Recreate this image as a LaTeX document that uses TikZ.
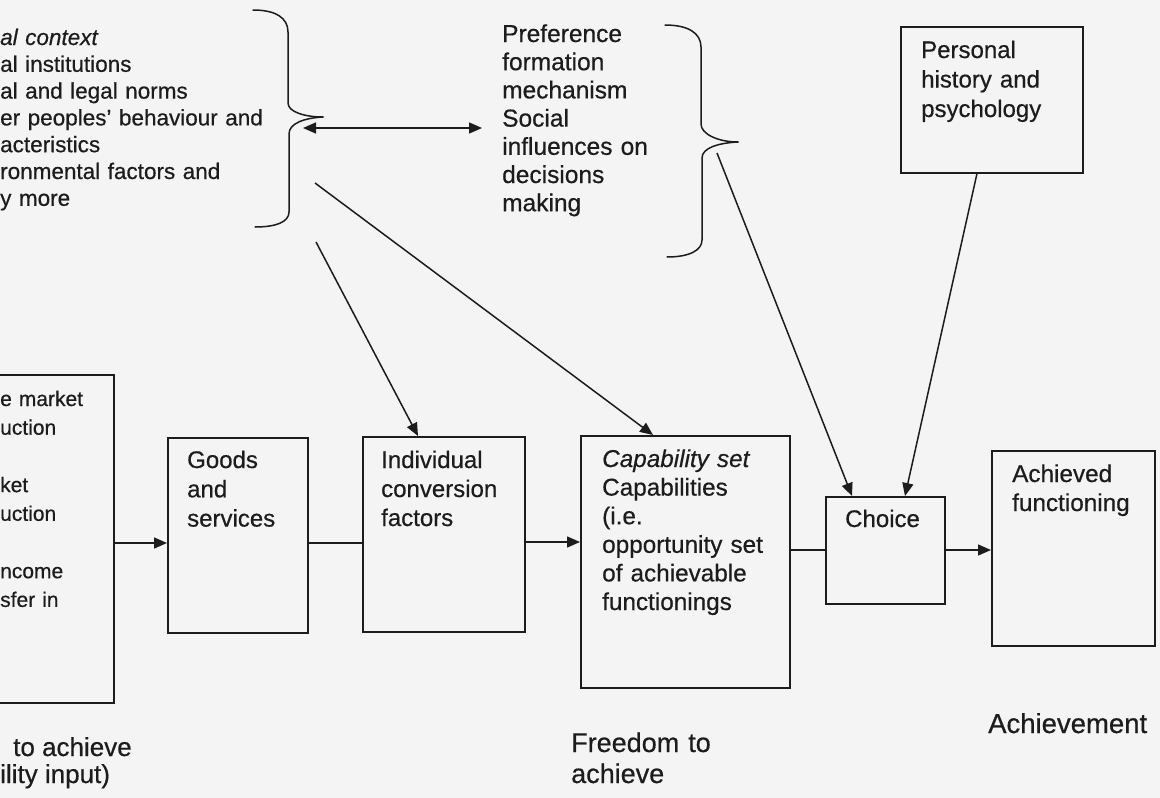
\documentclass[tikz,border=0pt]{standalone}
\usepackage{fontspec}
\setmainfont{Liberation Sans}[FakeBold=0.5]
\usetikzlibrary{arrows.meta,calc}
\definecolor{bg}{RGB}{244,244,244}
\definecolor{ink}{RGB}{28,28,28}
\begin{document}
\begin{tikzpicture}[x=1pt,y=-1pt,
  box/.style={draw=ink, line width=1.5pt, inner sep=0pt, anchor=north west},
  txt/.style={anchor=base west, inner sep=0pt, text=ink, align=left},
  conn/.style={draw=ink, line width=1.5pt},
  arr/.style={conn, -{Triangle[length=13pt,width=11pt]}},
  dbl/.style={conn, {Triangle[length=13pt,width=11pt]}-{Triangle[length=13pt,width=11pt]}},
  brace/.style={draw=ink, line width=1.5pt, line cap=round},
]
\fill[bg] (0,0) rectangle (1160,798);
\useasboundingbox (0,0) rectangle (1160,798);
\clip (0,0) rectangle (1160,798);

% ---------- boxes ----------
\node[box, minimum width=153, minimum height=328] (left) at (-40,374) {};
\node[box, minimum width=140, minimum height=195] (goods) at (167,437) {};
\node[box, minimum width=162, minimum height=195] (indiv) at (362,436) {};
\node[box, minimum width=209, minimum height=252] (cap) at (580,435) {};
\node[box, minimum width=119, minimum height=107] (choice) at (825,496) {};
\node[box, minimum width=163, minimum height=195] (ach) at (991,450) {};
\node[box, minimum width=182, minimum height=146] (pers) at (900,26) {};

% ---------- texts ----------
\node[txt, text width=290, font=\fontsize{22.5}{26.8}\selectfont] (ctx) at (0,45)
  {\textit{al context}\\al institutions\\al and legal norms\\er peoples' behaviour and\\acteristics\\ronmental factors and\\y more};
\node[txt, text width=160, font=\fontsize{24.5}{28.2}\selectfont] (pref) at (502,42)
  {Preference\\formation\\mechanism\\Social\\influences on\\decisions\\making};
\node[txt, text width=150, font=\fontsize{24}{29.5}\selectfont] (persT) at (921,58)
  {Personal\\history and\\psychology};
\node[txt, text width=105, font=\fontsize{21}{28.7}\selectfont] (leftT) at (0,406)
  {e market\\uction\\~\\ket\\uction\\~\\ncome\\sfer in};
\node[txt, text width=120, font=\fontsize{24}{29.3}\selectfont] (goodsT) at (187,468)
  {Goods\\and\\services};
\node[txt, text width=140, font=\fontsize{24}{29}\selectfont] (indivT) at (381,468)
  {Individual\\conversion\\factors};
\node[txt, text width=180, font=\fontsize{24.3}{28.6}\selectfont] (capT) at (602,467)
  {\textit{Capability set}\\Capabilities\\(i.e.\\opportunity set\\of achievable\\functionings};
\node[txt, font=\fontsize{24}{29}\selectfont] (choiceT) at (845,527) {Choice};
\node[txt, text width=140, font=\fontsize{24.3}{29}\selectfont] (achT) at (1012,482)
  {Achieved\\functioning};

\node[txt, font=\fontsize{26}{30}\selectfont] (lblA) at (13,756) {to achieve};
\node[txt, font=\fontsize{26}{30}\selectfont] (lblB) at (0,783) {ility input)};
\node[txt, text width=170, font=\fontsize{27}{31}\selectfont] (lblF) at (571,752) {Freedom to\\achieve};
\node[txt, font=\fontsize{27.5}{31}\selectfont] (lblAch) at (988,733) {Achievement};

% ---------- braces ----------
\draw[brace] (253,10) .. controls (276,10) and (288,18) .. (288,32) -- (288,103)
  .. controls (288,112) and (305,117) .. (323,117);
\draw[brace] (323,117) .. controls (305,118) and (289,123) .. (289,134) -- (289,212)
  .. controls (289,222) and (276,227) .. (255,227);
\draw[brace] (665,25) .. controls (688,25) and (701,33) .. (701,47) -- (701,124)
  .. controls (701,134) and (718,142) .. (738,142);
\draw[brace] (738,142) .. controls (718,143) and (702,148) .. (702,158) -- (702,240)
  .. controls (702,250) and (690,257) .. (667,257);

% ---------- connector ends ----------
\coordinate (b1tip) at (303,128);
\coordinate (prefL) at (482,128);
\coordinate (b1a) at (315,183);
\coordinate (b1b) at (316,242);
\coordinate (b2a) at (717,153);
\coordinate (rowA) at (0,543);
\coordinate (rowB) at (0,542);
\coordinate (rowC) at (0,550);

% ---------- connectors ----------
\draw[dbl] (b1tip) -- (prefL);
\draw[arr] (b1a) -- ($(cap.north west)+(73,0)$);
\draw[arr] (b1b) -- ($(indiv.north west)+(56,0)$);
\draw[arr] (b2a) -- ($(choice.north west)+(27,0)$);
\draw[arr] ($(pers.south west)+(77,0)$) -- ($(choice.north west)+(80,0)$);

\draw[arr] (left.east |- rowA) -- (goods.west |- rowA);
\draw[conn] (goods.east |- rowA) -- (indiv.west |- rowA);
\draw[arr] (indiv.east |- rowB) -- (cap.west |- rowB);
\draw[conn] (cap.east |- rowC) -- (choice.west |- rowC);
\draw[arr] (choice.east |- rowC) -- (ach.west |- rowC);
\end{tikzpicture}
\end{document}
